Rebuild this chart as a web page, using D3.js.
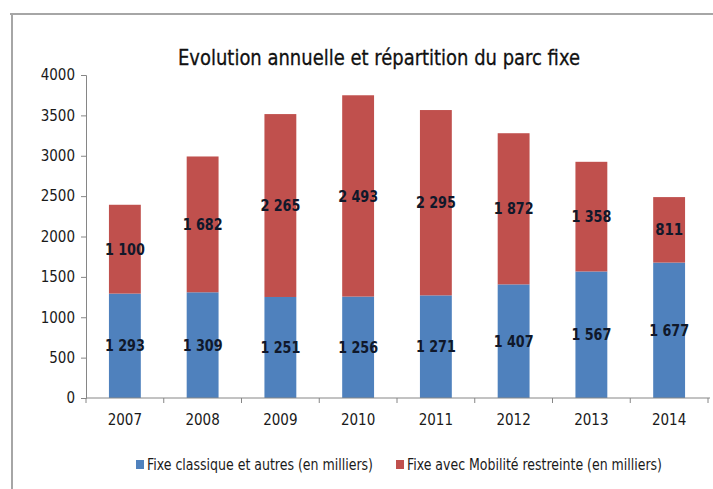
<!DOCTYPE html>
<html>
<head>
<meta charset="utf-8">
<script src="https://cdn.jsdelivr.net/npm/d3@7"></script>
<style>
  body { margin: 0; background: #fff; }
  svg { display: block; }
  text { font-family: "DejaVu Sans", sans-serif; font-stretch: condensed; }
</style>
</head>
<body>
<svg id="chart" width="713" height="489"></svg>
<script>
// data (en milliers)
var years = ['2007', '2008', '2009', '2010', '2011', '2012', '2013', '2014'];
var classique = [1293, 1309, 1251, 1256, 1271, 1407, 1567, 1677];
var mobilite = [1100, 1682, 2265, 2493, 2295, 1872, 1358, 811];
var yTicks = [0, 500, 1000, 1500, 2000, 2500, 3000, 3500, 4000];
var seriesNames = ['Fixe classique et autres (en milliers)', 'Fixe avec Mobilité restreinte (en milliers)'];
var colors = ['#4F81BD', '#C0504D'];

var svg = d3.select('#chart');
var margin = { left: 86, right: 5, top: 75, bottom: 91 };
var W = 713, H = 489;

// frame
svg.append('line').attr('x1', 10).attr('x2', W).attr('y1', 14).attr('y2', 14)
    .attr('stroke', '#a6a6a6').attr('stroke-width', 2);
svg.append('line').attr('x1', 12).attr('x2', 12).attr('y1', 14).attr('y2', H)
    .attr('stroke', '#a6a6a6').attr('stroke-width', 2);

var x = d3.scaleBand().domain(years).range([margin.left, 708]).paddingInner(0.59).paddingOuter(0.295);
var y = d3.scaleLinear().domain([0, 4000]).range([398, 75]);

var rows = years.map((yr, i) => ({ year: yr, a: classique[i], b: mobilite[i] }));
var stack = d3.stack().keys(['a', 'b'])(rows);

var fmt = d3.formatLocale({ decimal: ',', thousands: ' ', grouping: [3], currency: ['', ''] }).format(',d');

// bars
stack.forEach((layer, k) => {
    svg.append('g').selectAll('rect').data(layer).enter().append('rect')
        .attr('x', d => x(d.data.year))
        .attr('width', x.bandwidth())
        .attr('y', d => y(d[1]))
        .attr('height', d => y(d[0]) - y(d[1]))
        .attr('fill', colors[k]);
    svg.append('g').selectAll('text').data(layer).enter().append('text')
        .attr('x', d => x(d.data.year) + x.bandwidth() / 2)
        .attr('y', d => (y(d[0]) + y(d[1])) / 2)
        .attr('dy', '0.35em')
        .attr('text-anchor', 'middle')
        .attr('font-size', 16)
        .attr('font-weight', 'bold')
        .attr('fill', '#10182a')
        .attr('textLength', d => (d[1] - d[0]) >= 1000 ? 40 : 28)
        .attr('lengthAdjust', 'spacingAndGlyphs')
        .text(d => fmt(d[1] - d[0]));
});

// y axis
var yAxis = svg.append('g').attr('transform', 'translate(' + margin.left + ',0)')
    .call(d3.axisLeft(y).tickValues(yTicks).tickSize(5).tickPadding(6).tickFormat(d3.format('d')));
yAxis.select('.domain').attr('stroke', '#868686');
yAxis.selectAll('.tick line').attr('stroke', '#868686');
yAxis.selectAll('.tick text').attr('font-size', 15).attr('fill', '#1a1a1a');

// x axis
var xAxis = svg.append('g').attr('transform', 'translate(0,398)')
    .call(d3.axisBottom(x).tickSize(0).tickPadding(16));
xAxis.select('.domain').attr('stroke', '#868686').attr('d', 'M' + margin.left + ',0H710');
xAxis.selectAll('.tick text').attr('font-size', 15).attr('fill', '#1a1a1a');
var step = x.step();
var bounds = d3.range(years.length + 1).map(i => margin.left + i * step);
xAxis.selectAll('line.sep').data(bounds).enter().append('line').attr('class', 'sep')
    .attr('x1', d => d).attr('x2', d => d).attr('y1', 0).attr('y2', 5)
    .attr('stroke', '#868686');

// title
svg.append('text').attr('x', 379).attr('y', 65).attr('text-anchor', 'middle')
    .attr('font-size', 22).attr('fill', '#111')
    .attr('stroke', '#111').attr('stroke-width', 0.3)
    .attr('textLength', 402).attr('lengthAdjust', 'spacingAndGlyphs')
    .text('Evolution annuelle et répartition du parc fixe');

// legend
var legX = [136, 396];
var legW = [226, 255];
seriesNames.forEach((name, i) => {
    svg.append('rect').attr('x', legX[i]).attr('y', 460).attr('width', 8).attr('height', 9).attr('fill', colors[i]);
    svg.append('text').attr('x', legX[i] + 11).attr('y', 470)
        .attr('font-size', 16).attr('fill', '#1a1a1a')
        .attr('textLength', legW[i]).attr('lengthAdjust', 'spacingAndGlyphs')
        .text(name);
});
</script>
</body>
</html>
